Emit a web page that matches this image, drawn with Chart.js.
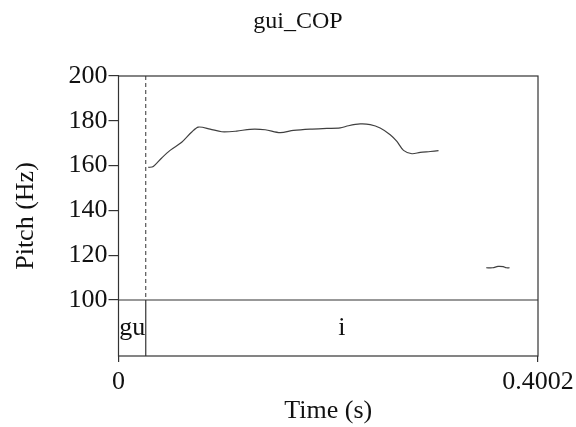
<!DOCTYPE html>
<html><head><meta charset="utf-8">
<script src="https://cdn.jsdelivr.net/npm/chart.js@4.4.1/dist/chart.umd.min.js"></script>
<style>html,body{margin:0;padding:0;background:#fff}canvas{display:block}</style>
</head><body>
<canvas id="c" width="576" height="427" style="width:576px;height:427px"></canvas>
<script>
const chartTitle = 'gui_COP';
const xLabel = 'Time (s)';
const yLabel = 'Pitch (Hz)';
const pitchTimes1 = [0.0284,0.0332,0.0412,0.0492,0.0603,0.0699,0.0762,0.0874,0.0985,0.1128,0.1255,0.1399,0.1542,0.1669,0.1828,0.1988,0.2115,0.2194,0.2305,0.2401,0.2496,0.2592,0.2656,0.2719,0.2799,0.2878,0.2974,0.3053];
const pitchValues1 = [159.2,159.6,163.4,166.8,170.4,175.0,177.2,176.3,175.1,175.4,176.2,176.0,174.7,175.7,176.3,176.6,176.8,177.8,178.6,178.3,176.8,173.8,170.8,166.8,165.3,165.9,166.3,166.7];
const pitchTimes2 = [0.3508,0.3570,0.3620,0.3670,0.3700,0.3731];
const pitchValues2 = [114.4,114.4,115.0,114.9,114.4,114.4];
const yTicks = [100,120,140,160,180,200];
const xTicks = [0, 0.4002];
const tierBoundaries = [0, 0.026, 0.4002];
const tierLabels = ['gu', 'i'];

const FONT = '"Liberation Serif", "Times New Roman", serif';
const INK = '#111';
const LINE = '#333';
Chart.defaults.font.family = FONT;
Chart.defaults.color = INK;

function pts(ts, vs) { return ts.map((t, i) => ({x: t, y: vs[i]})); }

const framePlugin = {
  id: 'frame',
  afterDraw(chart) {
    const {ctx, chartArea: a, scales: {x, y}} = chart;
    ctx.save();
    ctx.strokeStyle = LINE;
    ctx.lineWidth = 1.2;
    ctx.strokeRect(a.left, a.top, a.right - a.left, a.bottom - a.top);
    const yTier = y.getPixelForValue(yTicks[0]);
    ctx.beginPath(); ctx.moveTo(a.left, yTier); ctx.lineTo(a.right, yTier); ctx.stroke();
    for (let i = 1; i < tierBoundaries.length - 1; i++) {
      const bx = x.getPixelForValue(tierBoundaries[i]);
      ctx.beginPath(); ctx.setLineDash([]);
      ctx.moveTo(bx, yTier); ctx.lineTo(bx, a.bottom); ctx.stroke();
      ctx.beginPath(); ctx.setLineDash([4, 3]); ctx.lineWidth = 1;
      ctx.moveTo(bx, a.top); ctx.lineTo(bx, yTier); ctx.stroke();
      ctx.setLineDash([]); ctx.lineWidth = 1.2;
    }
    ctx.fillStyle = INK;
    ctx.font = '26px ' + FONT;
    ctx.textAlign = 'center';
    ctx.textBaseline = 'middle';
    const yMid = (yTier + a.bottom) / 2;
    for (let i = 0; i < tierLabels.length; i++) {
      const cx = (x.getPixelForValue(tierBoundaries[i]) + x.getPixelForValue(tierBoundaries[i + 1])) / 2;
      ctx.fillText(tierLabels[i], cx, yMid);
    }
    ctx.font = '24px ' + FONT;
    ctx.fillText(chartTitle, 298, 22);
    ctx.restore();
  }
};

new Chart(document.getElementById('c'), {
  type: 'scatter',
  data: {
    datasets: [
      {data: pts(pitchTimes1, pitchValues1), showLine: true, borderColor: '#404040', borderWidth: 1.2, pointRadius: 0, tension: 0.3, fill: false},
      {data: pts(pitchTimes2, pitchValues2), showLine: true, borderColor: '#404040', borderWidth: 1.2, pointRadius: 0, tension: 0.3, fill: false}
    ]
  },
  options: {
    responsive: false,
    animation: false,
    devicePixelRatio: 1,
    layout: {padding: {left: 0, right: 38, top: 76, bottom: 0}},
    plugins: {legend: {display: false}, tooltip: {enabled: false}, title: {display: false}},
    scales: {
      x: {
        type: 'linear', min: 0, max: 0.4002,
        afterBuildTicks: s => { s.ticks = xTicks.map(v => ({value: v})); },
        afterFit: s => { s.height = 71; s.paddingLeft = 0; s.paddingRight = 0; },
        grid: {drawOnChartArea: false, drawTicks: true, tickLength: 6, color: LINE, lineWidth: 1.2},
        border: {display: false},
        ticks: {padding: 5, maxRotation: 0, autoSkip: false, color: INK, font: {size: 26}, callback: v => String(v)},
        title: {display: true, text: xLabel, color: INK, font: {size: 26}, padding: {top: 0, bottom: 0.4}}
      },
      y: {
        type: 'linear', min: 75, max: 200,
        afterBuildTicks: s => { s.ticks = yTicks.map(v => ({value: v})); },
        afterFit: s => { s.width = 118.5; s.paddingTop = 0; s.paddingBottom = 0; },
        grid: {drawOnChartArea: false, drawTicks: true, tickLength: 10, color: LINE, lineWidth: 1.2},
        border: {display: false},
        ticks: {padding: 1, color: INK, font: {size: 26}, callback: v => String(v)},
        title: {display: true, text: yLabel, color: INK, font: {size: 26}, padding: {top: 10.4, bottom: 0}}
      }
    }
  },
  plugins: [framePlugin]
});
</script>
</body></html>
